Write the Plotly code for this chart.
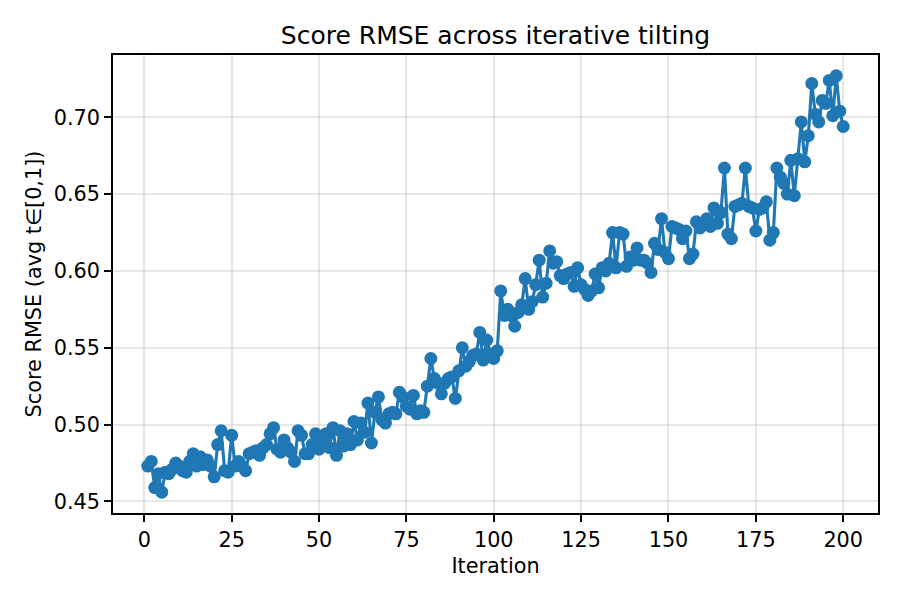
import plotly.graph_objects as go

iterations = list(range(1, 201))
rmse = [
    0.473, 0.476, 0.459, 0.468, 0.456, 0.469, 0.468, 0.471, 0.475, 0.473,
    0.470, 0.469, 0.476, 0.481, 0.473, 0.479, 0.474, 0.477, 0.473, 0.466,
    0.487, 0.496, 0.470, 0.469, 0.493, 0.473, 0.476, 0.473, 0.470, 0.481,
    0.482, 0.483, 0.480, 0.485, 0.487, 0.494, 0.498, 0.484, 0.482, 0.490,
    0.485, 0.482, 0.476, 0.496, 0.493, 0.481, 0.481, 0.487, 0.494, 0.484,
    0.491, 0.494, 0.485, 0.498, 0.480, 0.496, 0.486, 0.494, 0.487, 0.502,
    0.490, 0.501, 0.495, 0.514, 0.488, 0.508, 0.518, 0.503, 0.501, 0.507,
    0.508, 0.507, 0.521, 0.518, 0.512, 0.510, 0.519, 0.507, 0.509, 0.508,
    0.525, 0.543, 0.530, 0.527, 0.520, 0.527, 0.530, 0.531, 0.517, 0.535,
    0.550, 0.538, 0.541, 0.545, 0.546, 0.560, 0.542, 0.555, 0.546, 0.543,
    0.548, 0.587, 0.571, 0.575, 0.571, 0.564, 0.573, 0.578, 0.595, 0.575,
    0.580, 0.591, 0.607, 0.583, 0.592, 0.613, 0.605, 0.606, 0.597, 0.595,
    0.598, 0.599, 0.590, 0.602, 0.591, 0.588, 0.584, 0.587, 0.598, 0.589,
    0.602, 0.600, 0.605, 0.625, 0.602, 0.625, 0.624, 0.603, 0.609, 0.607,
    0.615, 0.607, 0.607, 0.605, 0.599, 0.618, 0.614, 0.634, 0.612, 0.608,
    0.629, 0.628, 0.627, 0.621, 0.626, 0.608, 0.611, 0.632, 0.628, 0.630,
    0.634, 0.629, 0.641, 0.631, 0.638, 0.667, 0.624, 0.621, 0.642, 0.643,
    0.644, 0.667, 0.642, 0.641, 0.626, 0.640, 0.641, 0.645, 0.620, 0.625,
    0.667, 0.661, 0.657, 0.650, 0.672, 0.649, 0.673, 0.697, 0.671, 0.688,
    0.722, 0.702, 0.697, 0.711, 0.709, 0.724, 0.701, 0.727, 0.704, 0.694,
]
x_ticks = [0, 25, 50, 75, 100, 125, 150, 175, 200]
y_ticks = [0.45, 0.50, 0.55, 0.60, 0.65, 0.70]

FONT = "DejaVu Sans"
color = "#1f77b4"

fig = go.Figure(
    go.Scatter(
        x=iterations, y=rmse, mode="lines+markers",
        line=dict(color=color, width=3.1),
        marker=dict(color=color, size=13, line=dict(width=0)),
    )
)

xmin, xmax = min(iterations), max(iterations)
ymin, ymax = min(rmse), max(rmse)
xm = (xmax - xmin) * 0.05
ym = (ymax - ymin) * 0.05

axis_common = dict(
    showline=True, linecolor="black", linewidth=1.7, mirror=True,
    ticks="outside", ticklen=7, tickwidth=1.7, tickcolor="black",
    showgrid=True, gridcolor="rgba(176,176,176,0.3)", gridwidth=1.5,
    zeroline=False, tickfont=dict(family=FONT, size=20.8, color="black"),
    title_font=dict(family=FONT, size=20.8, color="black"),
)

fig.update_xaxes(
    range=[xmin - xm, xmax + xm], tickvals=x_ticks,
    title_text="Iteration", title_standoff=8, **axis_common,
)
fig.update_yaxes(
    range=[ymin - ym, ymax + ym], tickvals=y_ticks, tickformat=".2f",
    title_text="Score RMSE (avg t∈[0,1])", title_standoff=6, **axis_common,
)

fig.update_layout(
    width=900, height=600,
    margin=dict(l=105, r=30, t=47, b=95, autoexpand=False),
    plot_bgcolor="white", paper_bgcolor="white",
    showlegend=False,
    title=dict(
        text="Score RMSE across iterative tilting",
        x=0.5, xanchor="center", xref="paper",
        y=1 - 27 / 600, yanchor="middle",
        font=dict(family=FONT, size=25, color="black"),
    ),
)

fig.write_html("out.html")
